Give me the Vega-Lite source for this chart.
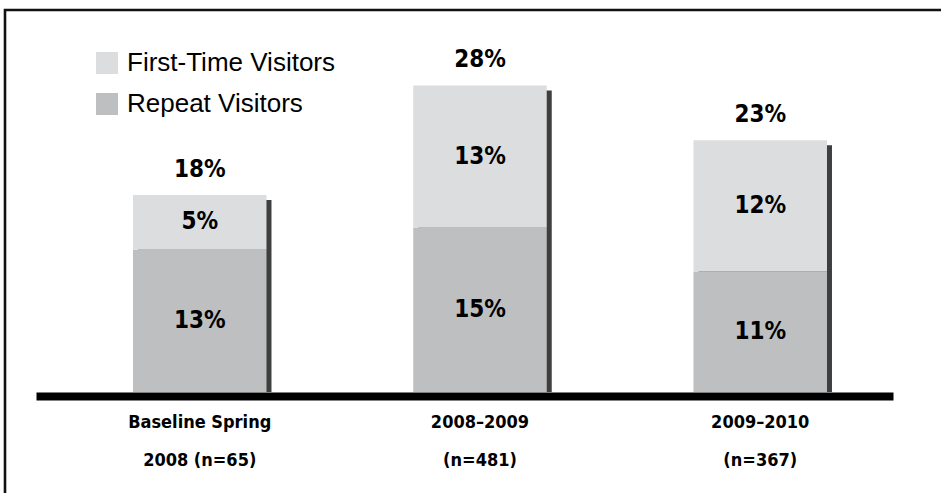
{
  "$schema": "https://vega.github.io/schema/vega-lite/v6.json",
  "autosize": "none",
  "width": 990,
  "height": 520,
  "padding": {"left": 5, "top": 10, "right": -54, "bottom": -37},
  "background": "white",
  "config": {
    "view": {"stroke": "#111111", "strokeWidth": 2.6},
    "font": "DejaVu Sans Condensed"
  },
  "datasets": {
    "segments": [
      {"period": "Baseline Spring|2008 (n=65)", "type": "Repeat Visitors", "value": 13, "order": 1},
      {"period": "Baseline Spring|2008 (n=65)", "type": "First-Time Visitors", "value": 5, "order": 2},
      {"period": "2008–2009|(n=481)", "type": "Repeat Visitors", "value": 15, "order": 1},
      {"period": "2008–2009|(n=481)", "type": "First-Time Visitors", "value": 13, "order": 2},
      {"period": "2009–2010|(n=367)", "type": "Repeat Visitors", "value": 11, "order": 1},
      {"period": "2009–2010|(n=367)", "type": "First-Time Visitors", "value": 12, "order": 2}
    ],
    "totals": [
      {"period": "Baseline Spring|2008 (n=65)", "total": 18},
      {"period": "2008–2009|(n=481)", "total": 28},
      {"period": "2009–2010|(n=367)", "total": 23}
    ]
  },
  "encoding": {
    "x": {
      "field": "period",
      "type": "nominal",
      "scale": {
        "domain": ["Baseline Spring|2008 (n=65)", "2008–2009|(n=481)", "2009–2010|(n=367)"],
        "range": [31, 888],
        "paddingInner": 0.5236,
        "paddingOuter": 0.2908,
        "align": 0.595,
        "round": false
      },
      "axis": {
        "title": null,
        "orient": "bottom",
        "offset": -134,
        "domainColor": "#000000",
        "domainWidth": 8,
        "domainCap": "butt",
        "ticks": false,
        "grid": false,
        "labelAngle": 0,
        "labelLimit": 0,
        "labelFont": "DejaVu Sans Condensed",
        "labelFontWeight": "bold",
        "labelFontSize": 18,
        "labelColor": "#000000",
        "labelPadding": 31,
        "labelBaseline": "alphabetic",
        "labelLineHeight": 38,
        "labelExpr": "split(datum.label, '|')"
      }
    }
  },
  "layer": [
    {
      "data": {"name": "totals"},
      "mark": {"type": "bar", "color": "#3f3f3f", "xOffset": 5, "yOffset": 5},
      "encoding": {
        "y": {
          "field": "total",
          "type": "quantitative",
          "scale": {"domain": [-12.603, 34.886], "nice": false, "zero": false},
          "axis": null
        },
        "y2": {"datum": 0}
      }
    },
    {
      "data": {"name": "segments"},
      "mark": {"type": "bar"},
      "encoding": {
        "y": {
          "field": "value",
          "type": "quantitative",
          "stack": "zero",
          "scale": {"domain": [-12.603, 34.886], "nice": false, "zero": false},
          "axis": null
        },
        "order": {"field": "order", "type": "quantitative"},
        "color": {
          "field": "type",
          "type": "nominal",
          "scale": {
            "domain": ["First-Time Visitors", "Repeat Visitors"],
            "range": ["#dcdddf", "#bebfc1"]
          },
          "legend": {
            "title": null,
            "orient": "none",
            "legendX": 89,
            "legendY": 40,
            "padding": 0,
            "symbolType": "square",
            "symbolSize": 484,
            "symbolStrokeWidth": 0,
            "labelFont": "Liberation Sans",
            "labelFontSize": 26,
            "labelColor": "#000000",
            "labelOffset": 7,
            "labelLimit": 0,
            "rowPadding": 15,
            "encode": {
              "symbols": {
                "update": {
                  "fill": {"signal": "datum.value === 'Repeat Visitors' ? '#949599' : '#dcdddf'"},
                  "opacity": {"value": 1}
                }
              }
            }
          }
        }
      }
    },
    {
      "data": {"name": "segments"},
      "transform": [
        {"stack": "value", "groupby": ["period"], "sort": [{"field": "order"}], "as": ["v0", "v1"]},
        {"calculate": "(datum.v0 + datum.v1) / 2", "as": "mid"},
        {"calculate": "datum.value + '%'", "as": "lbl"}
      ],
      "mark": {"type": "text", "font": "DejaVu Sans Condensed", "fontWeight": "bold", "fontSize": 24, "color": "#000000", "baseline": "middle", "align": "center"},
      "encoding": {
        "y": {"field": "mid", "type": "quantitative", "scale": {"domain": [-12.603, 34.886], "nice": false, "zero": false}, "axis": null},
        "text": {"field": "lbl"}
      }
    },
    {
      "data": {"name": "totals"},
      "transform": [{"calculate": "datum.total + '%'", "as": "lbl"}],
      "mark": {"type": "text", "font": "DejaVu Sans Condensed", "fontWeight": "bold", "fontSize": 24, "color": "#000000", "baseline": "alphabetic", "align": "center", "dy": -18},
      "encoding": {
        "y": {"field": "total", "type": "quantitative", "scale": {"domain": [-12.603, 34.886], "nice": false, "zero": false}, "axis": null},
        "text": {"field": "lbl"}
      }
    }
  ]
}
